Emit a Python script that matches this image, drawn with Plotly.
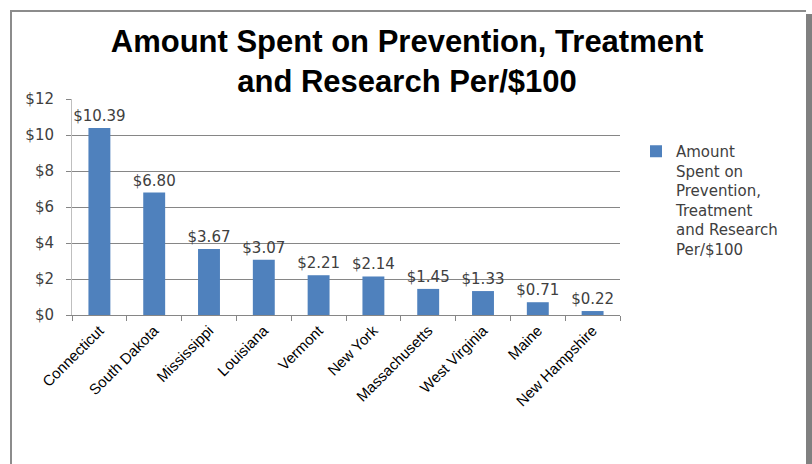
import plotly.graph_objects as go

states = ["Connecticut", "South Dakota", "Mississippi", "Louisiana", "Vermont",
          "New York", "Massachusetts", "West Virginia", "Maine", "New Hampshire"]
amounts = [10.39, 6.80, 3.67, 3.07, 2.21, 2.14, 1.45, 1.33, 0.71, 0.22]
series_name = "Amount<br>Spent on<br>Prevention,<br>Treatment<br>and Research<br>Per/$100"
title_text = "Amount Spent on Prevention, Treatment<br>and Research Per/$100"
y_ticks = [0, 2, 4, 6, 8, 10, 12]
y_tick_labels = ["$" + str(v) for v in y_ticks]

W, H = 812, 464
L, R, T, B = 72, 192, 99, 149
PW, PH = W - L - R, H - T - B

def px(x):
    return (x - L) / PW

def py(y):
    return 1 - (y - T) / PH

FONT = "DejaVu Sans"
LFONT = "Liberation Sans"

fig = go.Figure()
fig.add_trace(go.Bar(
    x=states, y=amounts, name=series_name,
    marker=dict(color="#4F81BD", line=dict(color="#4F81BD", width=0)),
    text=[f"${v:.2f}" for v in amounts], textposition="outside",
    constraintext="none",
    textfont=dict(family=FONT, size=15, color="#404040"),
    cliponaxis=False, showlegend=True,
))

fig.update_layout(
    width=W, height=H,
    margin=dict(l=L, r=R, t=T, b=B, autoexpand=False),
    paper_bgcolor="white", plot_bgcolor="white",
    bargap=0.6,
    title=dict(text="<b>" + title_text + "</b>", xref="container", x=407 / W,
               xanchor="center", yref="container", y=1 - 52 / H, yanchor="middle",
               font=dict(family=LFONT, size=31, color="black")),
    showlegend=True,
    legend=dict(x=px(636), y=py(135), xanchor="left", yanchor="top",
                font=dict(family=FONT, size=15, color="#404040"),
                valign="top", itemwidth=30, tracegroupgap=0,
                bgcolor="rgba(0,0,0,0)"),
    xaxis=dict(type="category", showline=True, linecolor="#868686", linewidth=1,
               ticks="outside", tickson="boundaries", ticklen=5, tickcolor="#868686",
               tickangle=-45, tickfont=dict(family=LFONT, size=15, color="black"),
               showgrid=False),
    yaxis=dict(range=[0, 12], tickvals=y_ticks, ticktext=y_tick_labels,
               showline=True, linecolor="#BFBFBF", linewidth=1,
               ticks="outside", ticklen=5, tickcolor="#868686",
               ticklabelstandoff=9,
               gridcolor="#868686", gridwidth=1, zeroline=False,
               tickfont=dict(family=FONT, size=15, color="#404040")),
    shapes=[
        dict(type="rect", xref="paper", yref="paper",
             x0=px(806), x1=px(813), y0=py(14), y1=py(470),
             fillcolor="#808080", line=dict(width=0), layer="below"),
        dict(type="line", xref="paper", yref="paper",
             x0=px(11), x1=px(11), y0=py(11), y1=py(470),
             line=dict(color="#8C8C8C", width=2)),
        dict(type="line", xref="paper", yref="paper",
             x0=px(10), x1=px(806), y0=py(11), y1=py(11),
             line=dict(color="#8C8C8C", width=2)),
    ],
)

fig.write_html("out.html", config={"displayModeBar": False},
               post_script="document.body.style.margin='0px';document.body.style.overflow='hidden';")
